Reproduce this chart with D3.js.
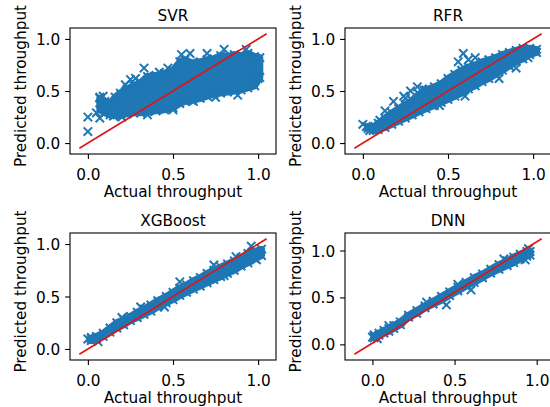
<!DOCTYPE html>
<html>
<head>
<meta charset="utf-8">
<script src="https://cdn.jsdelivr.net/npm/d3@7"></script>
<style>
  body { margin: 0; background: #fff; }
  text { font-family: "DejaVu Sans", sans-serif; fill: #000; }
</style>
</head>
<body>
<svg id="chart" width="550" height="407"></svg>
<script>
// panel titles, axis labels, ticks
var panelNames = ["SVR", "RFR", "XGBoost", "DNN"];
var tickValues = [0, 0.5, 1.0];
var xLabel = "Actual throughput";
var yLabel = "Predicted throughput";

// dense part of each cloud: actual value, lowest and highest predicted marker
var svrBandX  = [0.07,0.10,0.13,0.16,0.19,0.23,0.27,0.31,0.35,0.40,0.45,0.50,0.54,0.57,0.61,0.66,0.70,0.74,0.78,0.82,0.86,0.90,0.94,0.98,1.01];
var svrBandHi = [0.43,0.40,0.38,0.44,0.48,0.52,0.55,0.58,0.64,0.65,0.67,0.70,0.78,0.80,0.77,0.78,0.80,0.81,0.84,0.83,0.85,0.84,0.86,0.83,0.82];
var svrBandLo = [0.32,0.29,0.27,0.27,0.27,0.28,0.29,0.29,0.30,0.31,0.32,0.34,0.38,0.40,0.41,0.43,0.45,0.47,0.48,0.49,0.50,0.51,0.53,0.55,0.63];

var rfrBandX  = [0.03,0.06,0.09,0.13,0.17,0.21,0.25,0.29,0.33,0.37,0.42,0.46,0.50,0.54,0.58,0.62,0.66,0.70,0.74,0.78,0.82,0.86,0.90,0.94,0.98,1.02];
var rfrBandHi = [0.16,0.15,0.19,0.24,0.29,0.33,0.37,0.41,0.47,0.51,0.54,0.57,0.62,0.66,0.70,0.73,0.75,0.78,0.80,0.82,0.85,0.87,0.89,0.91,0.91,0.90];
var rfrBandLo = [0.14,0.12,0.13,0.15,0.18,0.21,0.24,0.27,0.30,0.33,0.36,0.39,0.42,0.45,0.48,0.52,0.55,0.59,0.62,0.66,0.70,0.74,0.78,0.81,0.85,0.87];

var xgbBandX  = [0.02,0.05,0.09,0.13,0.17,0.21,0.25,0.29,0.33,0.37,0.41,0.46,0.50,0.54,0.58,0.62,0.66,0.70,0.74,0.78,0.82,0.86,0.90,0.94,0.98,1.02];
var xgbBandHi = [0.10,0.12,0.15,0.20,0.25,0.28,0.31,0.35,0.38,0.42,0.46,0.50,0.54,0.58,0.61,0.65,0.68,0.72,0.75,0.78,0.81,0.84,0.87,0.91,0.93,0.95];
var xgbBandLo = [0.08,0.10,0.12,0.16,0.20,0.23,0.27,0.30,0.33,0.36,0.40,0.44,0.47,0.51,0.54,0.57,0.60,0.63,0.66,0.69,0.72,0.75,0.79,0.82,0.86,0.89];

var dnnBandX  = [0.01,0.04,0.07,0.10,0.13,0.17,0.22,0.27,0.32,0.37,0.42,0.47,0.52,0.57,0.62,0.67,0.72,0.77,0.82,0.86,0.90,0.94,0.96];
var dnnBandHi = [0.09,0.12,0.15,0.17,0.20,0.24,0.31,0.36,0.41,0.46,0.51,0.56,0.61,0.66,0.71,0.75,0.80,0.85,0.89,0.93,0.96,0.99,0.99];
var dnnBandLo = [0.07,0.10,0.12,0.14,0.17,0.21,0.29,0.33,0.39,0.43,0.47,0.52,0.57,0.62,0.66,0.71,0.76,0.80,0.84,0.87,0.91,0.94,0.95];

// loose points outside the dense part [actual, predicted]
var svrPoints = [[0.0,0.25],[0.0,0.11],[0.05,0.29],[0.07,0.24],[0.07,0.44],[0.09,0.45],[0.15,0.26],[0.2,0.25],
  [0.22,0.56],[0.25,0.61],[0.28,0.62],[0.33,0.72],[0.35,0.27],[0.42,0.68],[0.47,0.72],[0.5,0.32],[0.55,0.85],
  [0.6,0.86],[0.62,0.4],[0.7,0.86],[0.75,0.44],[0.8,0.9],[0.88,0.46],[0.93,0.9],[0.98,0.6],[1.0,0.62]];
var rfrPoints = [[0.0,0.18],[0.02,0.16],[0.04,0.12],[0.1,0.22],[0.13,0.31],[0.18,0.4],[0.24,0.45],[0.25,0.43],
  [0.28,0.5],[0.32,0.54],[0.35,0.52],[0.45,0.36],[0.56,0.78],[0.59,0.86],[0.6,0.45],[0.62,0.8],[0.66,0.82],
  [0.8,0.62],[0.9,0.72],[0.97,0.82]];
var xgbPoints = [[0.0,0.095],[0.02,0.11],[0.06,0.07],[0.2,0.3],[0.31,0.4],[0.45,0.4],[0.54,0.64],[0.74,0.8],
  [0.8,0.7],[0.87,0.88],[0.96,0.98],[0.99,0.85]];
var dnnPoints = [[0.0,0.077],[0.01,0.1],[0.03,0.06],[0.1,0.2],[0.33,0.45],[0.45,0.42],[0.52,0.64],[0.6,0.58],
  [0.8,0.91],[0.93,0.9],[0.95,1.02]];

// red reference line end points [actual, predicted]
var svrLine = [[-0.05,-0.05],[1.05,1.05]];
var rfrLine = [[-0.05,-0.05],[1.05,1.05]];
var xgbLine = [[-0.05,-0.05],[1.05,1.05]];
var dnnLine = [[-0.11,-0.105],[1.03,1.125]];

var panels = [
  { name: panelNames[0], bx: svrBandX, lo: svrBandLo, hi: svrBandHi, pts: svrPoints, line: svrLine },
  { name: panelNames[1], bx: rfrBandX, lo: rfrBandLo, hi: rfrBandHi, pts: rfrPoints, line: rfrLine },
  { name: panelNames[2], bx: xgbBandX, lo: xgbBandLo, hi: xgbBandHi, pts: xgbPoints, line: xgbLine },
  { name: panelNames[3], bx: dnnBandX, lo: dnnBandLo, hi: dnnBandHi, pts: dnnPoints, line: dnnLine }
];

var colLeft = [70, 345], colRight = [276, 551];
var rowTop = [28, 233], rowBottom = [154, 360];
var blue = "#1f77b4";
var fontSize = 15.3;
var xMark = "M-4.2,-4.2L4.2,4.2M-4.2,4.2L4.2,-4.2";

var svg = d3.select("#chart");

panels.forEach(function(p, i){
  var c = i % 2, r = Math.floor(i / 2);
  var x0 = colLeft[c], x1 = colRight[c], y0 = rowTop[r], y1 = rowBottom[r];

  // matplotlib style autoscale: data + line extent with 5% margin
  var allX = p.bx.concat(p.pts.map(function(d){ return d[0]; }), p.line.map(function(d){ return d[0]; }));
  var allY = p.lo.concat(p.hi, p.pts.map(function(d){ return d[1]; }), p.line.map(function(d){ return d[1]; }));
  var ex = d3.extent(allX), ey = d3.extent(allY);
  var mx = (ex[1] - ex[0]) * 0.05, my = (ey[1] - ey[0]) * 0.05;

  var x = d3.scaleLinear().domain([ex[0] - mx, ex[1] + mx]).range([x0, x1]);
  var y = d3.scaleLinear().domain([ey[0] - my, ey[1] + my]).range([y1, y0]);

  var g = svg.append("g");

  var band = p.bx.map(function(v, k){ return { x: v, lo: p.lo[k], hi: p.hi[k] }; });

  var area = d3.area()
      .x(function(d){ return x(d.x); })
      .y0(function(d){ return y(d.lo); })
      .y1(function(d){ return y(d.hi); });

  g.append("path")
      .datum(band)
      .attr("d", area)
      .attr("fill", blue)
      .attr("stroke", blue)
      .attr("stroke-width", 7)
      .attr("stroke-linejoin", "round");

  var marks = [];
  band.forEach(function(d){ marks.push([d.x, d.lo]); marks.push([d.x, d.hi]); });
  marks = marks.concat(p.pts);

  g.selectAll(".mark")
    .data(marks)
    .enter().append("path")
      .attr("class", "mark")
      .attr("d", xMark)
      .attr("transform", function(d){ return "translate(" + x(d[0]) + "," + y(d[1]) + ")"; })
      .attr("stroke", blue)
      .attr("stroke-width", 2)
      .attr("fill", "none");

  g.append("path")
      .datum(p.line)
      .attr("d", d3.line().x(function(d){ return x(d[0]); }).y(function(d){ return y(d[1]); }))
      .attr("stroke", "#e01414")
      .attr("stroke-width", 1.6)
      .attr("fill", "none");

  // axes
  var xAxis = d3.axisBottom(x).tickValues(tickValues).tickFormat(d3.format(".1f")).tickSize(4.9).tickPadding(4.9);
  var yAxis = d3.axisLeft(y).tickValues(tickValues).tickFormat(d3.format(".1f")).tickSize(4.9).tickPadding(4.9);

  var gx = g.append("g").attr("transform", "translate(0," + y1 + ")").call(xAxis);
  var gy = g.append("g").attr("transform", "translate(" + x0 + ",0)").call(yAxis);
  [gx, gy].forEach(function(a){
    a.select(".domain").remove();
    a.selectAll(".tick line").attr("stroke", "#000").attr("stroke-width", 1.1);
    a.selectAll(".tick text").attr("font-size", fontSize).attr("font-family", "DejaVu Sans").attr("fill", "#000");
  });
  gx.selectAll(".tick text").attr("dy", null).attr("y", 26);
  gy.selectAll(".tick text").attr("dy", "0.36em");

  g.append("rect")
      .attr("x", x0).attr("y", y0)
      .attr("width", x1 - x0).attr("height", y1 - y0)
      .attr("fill", "none")
      .attr("stroke", "#000")
      .attr("stroke-width", 1.1);

  g.append("text")
      .attr("x", (x0 + x1) / 2)
      .attr("y", y0 - 7.5)
      .attr("text-anchor", "middle")
      .attr("font-size", fontSize)
      .text(p.name);

  g.append("text")
      .attr("x", (x0 + x1) / 2)
      .attr("y", y1 + 43)
      .attr("text-anchor", "middle")
      .attr("font-size", fontSize)
      .text(xLabel);

  g.append("text")
      .attr("transform", "translate(" + (x0 - 44) + "," + ((y0 + y1) / 2 - 5) + ") rotate(-90)")
      .attr("text-anchor", "middle")
      .attr("font-size", fontSize)
      .text(yLabel);
});
</script>
</body>
</html>
